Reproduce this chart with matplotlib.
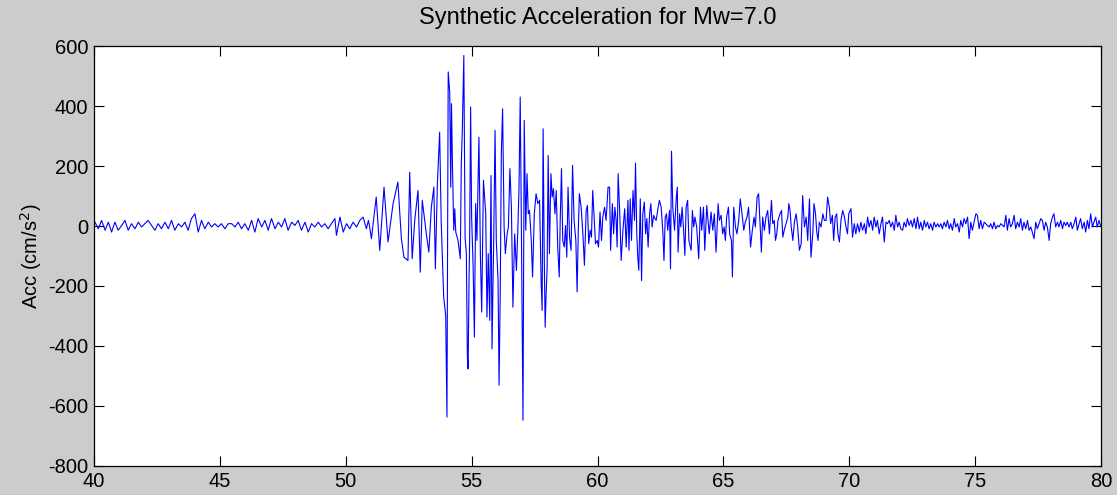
import numpy as np
import matplotlib
matplotlib.use("Agg")
import matplotlib.pyplot as plt

# Values (time in s, acceleration in cm/s^2)

# Pre-event noise 40-51 s
tPre = [40.04, 40.17, 40.30, 40.44, 40.57, 40.70, 40.83, 40.96, 41.10, 41.23,
        41.36, 41.49, 41.63, 41.76, 41.89, 42.02, 42.15, 42.29, 42.42, 42.55,
        42.68, 42.82, 42.95, 43.08, 43.21, 43.35, 43.48, 43.61, 43.74, 43.87,
        44.01, 44.14, 44.27, 44.40, 44.54, 44.67, 44.80, 44.93, 45.06, 45.20,
        45.33, 45.47, 45.60, 45.73, 45.86, 45.99, 46.13, 46.26, 46.39, 46.52,
        46.66, 46.79, 46.92, 47.05, 47.19, 47.32, 47.45, 47.58, 47.71, 47.85,
        47.98, 48.11, 48.24, 48.38, 48.51, 48.64, 48.77, 48.91, 49.04, 49.17,
        49.30, 49.43, 49.57, 49.63, 49.77, 49.90, 50.03, 50.16, 50.29, 50.43,
        50.56, 50.69, 50.82, 50.90]
aPre = [13, -9, 19, -14, 13, -20, 13, -14, 2, 19,
        -14, 8, -9, 13, -3, 8, 19, 2, -14, 8,
        -9, 13, -9, 19, -14, 8, -3, 13, -14, 25,
        41, -20, 19, -9, 13, -3, 8, -3, 8, -9,
        8, 8, -3, 13, -9, 8, -14, 19, -20, 25,
        -3, 19, -14, 25, -9, 13, -3, 25, -14, 13,
        2, 19, -14, 13, -20, 8, -3, 13, -3, 8,
        -9, 8, 25, -31, 30, -20, 8, -9, 13, -3,
        19, 30, -9, 19]

# Strong motion 51-70 s
tStrong = [50.95, 51.02, 51.21, 51.35, 51.52, 51.68, 51.88, 52.07, 52.21, 52.31,
           52.47, 52.54, 52.64, 52.74, 52.87, 52.96, 53.04, 53.20, 53.30, 53.40,
           53.50, 53.56, 53.64, 53.73, 53.79, 53.89, 53.97, 54.02, 54.07,
           54.13, 54.17, 54.20, 54.24, 54.29, 54.33, 54.37, 54.46, 54.55, 54.59,
           54.63, 54.69, 54.74, 54.79, 54.83, 54.86, 54.90, 54.92, 54.96, 55.00,
           55.06, 55.11, 55.16, 55.21, 55.29, 55.35, 55.40, 55.47, 55.56, 55.61,
           55.66, 55.72, 55.77, 55.81, 55.88, 55.93, 55.98, 56.05, 56.09, 56.14,
           56.18, 56.23, 56.29, 56.34, 56.41, 56.46, 56.52, 56.58, 56.64, 56.71,
           56.78, 56.83, 56.88, 56.93, 56.97, 57.04, 57.09, 57.15, 57.20, 57.25,
           57.30, 57.37, 57.42, 57.49, 57.56, 57.63, 57.70, 57.76, 57.80, 57.84,
           57.88, 57.92, 57.96, 58.00, 58.04, 58.09, 58.15, 58.20, 58.25, 58.31,
           58.36, 58.42, 58.48, 58.52, 58.57, 58.62, 58.68, 58.73, 58.78, 58.83,
           58.89, 58.95, 59.01, 59.07, 59.14, 59.19, 59.24, 59.28, 59.35, 59.42,
           59.48, 59.55, 59.60, 59.65, 59.71, 59.76, 59.81, 59.87, 59.92, 59.99,
           60.04, 60.10, 60.16, 60.21, 60.28, 60.34, 60.42, 60.48, 60.52, 60.59,
           60.64, 60.69, 60.74, 60.78, 60.82, 60.88, 60.94, 61.01, 61.08, 61.14,
           61.21, 61.25, 61.30, 61.35, 61.41, 61.47, 61.51, 61.56, 61.60, 61.64,
           61.70, 61.75, 61.80, 61.86, 61.91, 61.96, 62.01, 62.07, 62.12, 62.17,
           62.23, 62.28, 62.33, 62.41, 62.46, 62.53, 62.60, 62.64, 62.69, 62.74,
           62.79, 62.86, 62.90, 62.94, 62.99, 63.06, 63.13, 63.17, 63.20, 63.26,
           63.31, 63.36, 63.42, 63.47, 63.52, 63.58, 63.63, 63.72, 63.77, 63.82,
           63.87, 63.94, 64.02, 64.09, 64.14, 64.21, 64.26, 64.34, 64.39, 64.44,
           64.51, 64.58, 64.64, 64.71, 64.79, 64.84, 64.91, 64.97, 65.03, 65.08,
           65.13, 65.20, 65.25, 65.32, 65.36, 65.41, 65.48, 65.54, 65.61, 65.67,
           65.74, 65.81, 65.87, 65.94, 66.00, 66.08, 66.15, 66.22, 66.27, 66.34,
           66.40, 66.45, 66.51, 66.56, 66.63, 66.69, 66.76, 66.83, 66.91, 66.96,
           67.02, 67.07, 67.12, 67.17, 67.25, 67.31, 67.36, 67.43, 67.49, 67.56,
           67.60, 67.65, 67.69, 67.76, 67.82, 67.89, 67.95, 68.02, 68.09, 68.15,
           68.22, 68.29, 68.35, 68.42, 68.48, 68.55, 68.60, 68.66, 68.71, 68.76,
           68.81, 68.88, 68.95, 69.01, 69.08, 69.14, 69.21, 69.26, 69.33, 69.38,
           69.44, 69.50, 69.55, 69.61, 69.67, 69.74, 69.81, 69.87, 69.93, 69.98]
aStrong = [-3, -42, 97, -81, 130, -53, 75, 147, -42, -104,
           -115, 180, -109, 19, 119, -154, 86, -26, -87, 63,
           130, -143, 141, 314, 19, -237, -299, -638, 515,
           448, 130, 409, 197, -14, 58, -20, -48, -109, 208,
           320, 570, -37, -92, -432, -477, -159, -59, 398, 30,
           -137, -371, 75, -48, 297, -104, -287, 153, 41, -304,
           -92, -315, 169, -410, -26, 320, -48, -182, -532, -193,
           242, 392, -3, -92, -26, -3, 192, 63, -271, -26,
           -148, -26, 119, 431, 63, -649, 353, -14, 175, 41,
           52, -48, -170, 41, 108, 75, 86, -182, -282, 325,
           -70, -338, -226, -137, 236, -92, 175, 97, 125, 41,
           119, -70, -170, 25, 192, -48, -70, 2, -104, 130,
           -37, -81, 203, 19, -48, -220, -3, 108, 63, -26,
           -131, 52, 69, -59, -14, -37, 119, 19, -59, -48,
           -70, 47, -48, 30, 63, 19, 130, 130, -81, 75,
           -26, 63, 19, -70, 175, 52, -115, -14, 58, -70,
           86, -81, 91, -48, 119, 19, 210, -26, -104, -148,
           91, -182, 41, 80, -26, 25, -70, 41, 75, -3,
           36, 25, 19, 63, 86, 63, -26, -115, 30, 41,
           -14, 52, -143, 250, 63, -14, 97, 130, -87, 41,
           -3, 63, -14, -98, 63, 86, -48, -81, 52, -3,
           30, -3, -109, 63, -14, 63, -81, 69, 19, -26,
           47, -14, 41, -87, 75, 19, 36, -26, -3, -48,
           30, 63, -26, -48, -170, 63, -3, -26, 19, 91,
           41, -14, 13, 30, 63, -70, -14, 30, -3, 97,
           108, 19, -87, 30, -14, 30, 52, -26, 86, 8,
           19, -48, -26, 19, 41, 52, -37, -9, 8, 30,
           75, 52, 2, -48, 13, 41, -3, -81, -59, 102,
           -3, 30, -48, 91, -104, -26, 75, 41, -20, -48,
           13, -3, 41, 19, 19, 97, 63, 8, 36, -48,
           30, 41, -26, -53, 19, 52, 30, -3, -26, 41]

# Coda noise 70-80 s
tCoda = [70.07, 70.13, 70.20, 70.26, 70.33, 70.40, 70.46, 70.53, 70.60, 70.66,
         70.73, 70.79, 70.86, 70.93, 70.99, 71.06, 71.12, 71.19, 71.26, 71.32,
         71.39, 71.46, 71.52, 71.59, 71.65, 71.72, 71.79, 71.85, 71.92, 71.98,
         72.05, 72.12, 72.18, 72.25, 72.31, 72.38, 72.45, 72.51, 72.58, 72.65,
         72.71, 72.78, 72.84, 72.91, 72.98, 73.04, 73.11, 73.17, 73.24, 73.31,
         73.37, 73.44, 73.51, 73.57, 73.64, 73.70, 73.77, 73.84, 73.90, 73.97,
         74.03, 74.10, 74.17, 74.23, 74.30, 74.37, 74.43, 74.50, 74.56, 74.63,
         74.70, 74.76, 74.83, 74.89, 74.96, 75.03, 75.09, 75.16, 75.22, 75.29,
         75.36, 75.42, 75.49, 75.56, 75.62, 75.69, 75.75, 75.82, 75.89, 75.95,
         76.02, 76.15, 76.22, 76.28, 76.35, 76.41, 76.48, 76.55, 76.61, 76.68,
         76.75, 76.81, 76.88, 76.94, 77.01, 77.08, 77.14, 77.21, 77.27, 77.34,
         77.41, 77.47, 77.54, 77.61, 77.67, 77.74, 77.80, 77.87, 77.94, 78.00,
         78.07, 78.13, 78.20, 78.27, 78.33, 78.40, 78.47, 78.53, 78.60, 78.66,
         78.73, 78.80, 78.86, 78.93, 79.00, 79.06, 79.13, 79.19, 79.26, 79.33,
         79.39, 79.46, 79.52, 79.59, 79.66, 79.72, 79.79, 79.85, 79.92, 79.98]
aCoda = [58, -37, 8, -26, 8, -20, 13, -14, 8, -26,
         30, -3, 19, -14, 30, -3, 19, -26, 8, 30,
         -53, 13, 8, 19, -3, 13, -14, 36, -3, 13,
         -9, -14, 13, -3, 25, 2, 19, -3, 25, -9,
         30, -9, 13, -14, 19, -3, 13, -9, 8, -14,
         13, -3, 8, -3, 8, -9, 13, -3, 19, -9,
         8, -14, 25, -3, 8, -20, 19, -3, 25, 8,
         30, -42, 13, -14, 13, 41, 36, -9, 19, -9,
         13, 8, 2, -3, 8, -9, 13, -9, 2, -3,
         8, -3, 36, -14, 25, -3, 8, 36, -9, 13,
         -3, 25, -14, 13, -9, 19, -14, -3, -20, -42,
         13, -9, 8, 25, 19, -14, 13, -3, -48, 8,
         30, 41, -3, 13, -3, 19, -9, 13, 2, 13,
         -3, 13, -9, 8, 30, -14, 8, 25, -9, 13,
         -20, 19, -9, 41, -3, 13, 30, -3, 19, 2]

t = np.concatenate([tPre, tStrong, tCoda])
acc = np.concatenate([aPre, aStrong, aCoda])

plt.rcParams['font.family'] = ['Liberation Sans', 'DejaVu Sans']
plt.rcParams['axes.unicode_minus'] = False

fig = plt.figure(figsize=(11.17, 4.95), dpi=100, facecolor="#cccccc")
ax = fig.add_axes([94/1117, 29.5/495, (1101-94)/1117, (465.5-46.5)/495])
ax.set_facecolor("white")

ax.plot(t, acc, color=(0, 0, 1), linewidth=0.8)

ax.set_xlim(40, 80)
ax.set_ylim(-800, 600)
ax.set_xticks(np.arange(40, 81, 5))
ax.set_yticks(np.arange(-800, 601, 200))
ax.tick_params(direction="in", length=7.5, width=0.8, top=True, right=True,
               labelsize=14.5, colors="black")
ax.tick_params(axis="y", pad=4)
ax.tick_params(axis="x", pad=5)
for s in ax.spines.values():
    s.set_linewidth(0.9)

ax.set_title("Synthetic Acceleration for Mw=7.0", fontsize=17, pad=16)
ax.set_ylabel("Acc (cm/s$^2$)", fontsize=14.5, labelpad=3)

fig.savefig("out.png", dpi=100, facecolor=fig.get_facecolor())
